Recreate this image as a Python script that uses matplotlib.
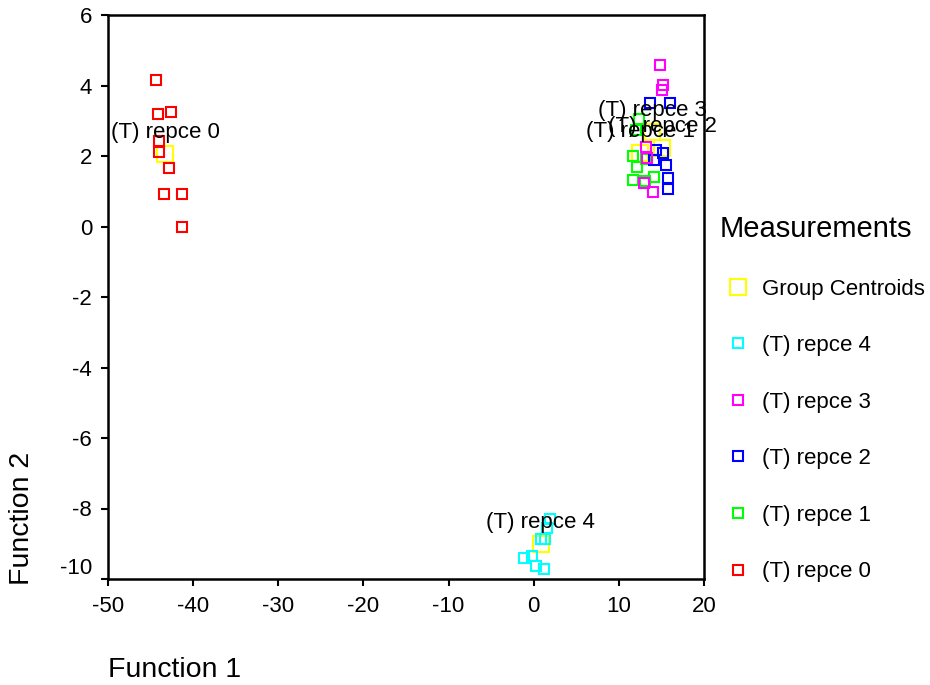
import matplotlib
matplotlib.use("Agg")
import matplotlib.pyplot as plt

plt.rcParams['font.family'] = ['Liberation Sans', 'DejaVu Sans']

# ---- data ----
group_names = ["(T) repce 0", "(T) repce 1", "(T) repce 2", "(T) repce 3", "(T) repce 4"]
group_colors = ["#ff0000", "#00ff00", "#0000ff", "#ff00ff", "#00ffff"]

repce0_x = [-44.4, -44.15, -42.55, -43.99, -43.99, -42.82, -43.45, -41.26, -41.26]
repce0_y = [4.15, 3.18, 3.24, 2.42, 2.12, 1.66, 0.93, 0.93, 0.0]

repce1_x = [12.38, 12.03, 11.68, 12.15, 13.21, 11.68, 13.09, 14.14]
repce1_y = [3.05, 2.73, 2.00, 1.68, 1.91, 1.31, 1.28, 1.40]

repce2_x = [13.67, 16.02, 14.38, 15.20, 14.14, 15.55, 15.79, 15.79]
repce2_y = [3.50, 3.50, 2.16, 2.08, 1.88, 1.74, 1.37, 1.06]

repce3_x = [14.85, 15.20, 15.08, 13.21, 13.32, 12.97, 14.03]
repce3_y = [4.58, 4.01, 3.87, 2.25, 1.94, 1.23, 0.97]

repce4_x = [1.94, 1.58, 0.88, 1.35, -1.11, -0.17, 0.29, 1.23]
repce4_y = [-8.29, -8.55, -8.86, -8.86, -9.40, -9.34, -9.63, -9.71]

centroid_x = [-43.25, 12.5, 15.08, 13.9, 0.82]
centroid_y = [2.05, 2.08, 2.22, 2.68, -9.02]

xticks = [-50, -40, -30, -20, -10, 0, 10, 20]
yticks = [-10, -8, -6, -4, -2, 0, 2, 4, 6]

groups_x = [repce0_x, repce1_x, repce2_x, repce3_x, repce4_x]
groups_y = [repce0_y, repce1_y, repce2_y, repce3_y, repce4_y]

# ---- figure ----
fig = plt.figure(figsize=(9.3, 6.85), dpi=100)
ax = fig.add_axes([108/930, 1-579/685, (704-108)/930, (579-15)/685])

cent_handle = ax.plot(centroid_x, centroid_y, linestyle='none', marker='s', markersize=12,
                      markerfacecolor='none', markeredgecolor='#ffff00', markeredgewidth=1.5,
                      label='Group Centroids', zorder=2)[0]

handles = []
for gx, gy, c, n in zip(groups_x, groups_y, group_colors, group_names):
    h = ax.plot(gx, gy, linestyle='none', marker='s', markersize=6.5,
                markerfacecolor='none', markeredgecolor=c, markeredgewidth=1.5,
                label=n, zorder=3)[0]
    handles.append(h)

for cx, cy, n in zip(centroid_x, centroid_y, group_names):
    ax.annotate(n, (cx, cy), xytext=(0, 22), textcoords='offset pixels',
                ha='center', va='center', fontsize=16, zorder=5)

ax.set_xlim(-50, 20)
ax.set_ylim(-10, 6)
ax.set_xticks(xticks)
ax.set_yticks(yticks)
ax.set_xticklabels([str(t) for t in xticks])
ax.set_yticklabels([str(t) for t in yticks])
ax.tick_params(direction='out', length=5, width=1.5, labelsize=16)
ax.tick_params(axis='x', pad=7)
ax.tick_params(axis='y', pad=6.5)
for s in ax.spines.values():
    s.set_linewidth(1.8)
ax.get_yticklabels()[0].set_va('bottom')

fig.text(108/930, 1-670/685, "Function 1", fontsize=20.5, ha='left', va='center')
fig.text(22/930, 1-585/685, "Function 2", fontsize=20.5, rotation=90, ha='center', va='bottom')

leg_handles = [cent_handle] + handles[::-1]
leg = fig.legend(handles=leg_handles, labels=[h.get_label() for h in leg_handles],
                 loc='upper left', bbox_to_anchor=(720/930, 1-215/685),
                 frameon=False, fontsize=16, title="Measurements", title_fontsize=21,
                 alignment='left', labelspacing=1.6, handlelength=1.62, handletextpad=0.27,
                 borderaxespad=0, borderpad=0)

fig.savefig("out.png", dpi=100)
